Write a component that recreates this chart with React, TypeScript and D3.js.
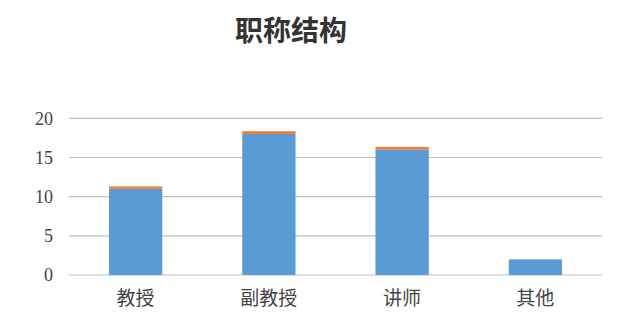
import React from "react";
import * as d3 from "d3";

const categories = ["教授", "副教授", "讲师", "其他"];
const series1 = [11, 18, 16, 2];
const series2 = [0.3, 0.35, 0.35, 0];
const yTicks = [0, 5, 10, 15, 20];
const title = "职称结构";

const W = 623;
const H = 325;

export default function App() {
  const x = d3
    .scaleBand<string>()
    .domain(categories)
    .range([69, 602])
    .paddingInner(0.6)
    .paddingOuter(0.3);
  const y = d3.scaleLinear().domain([0, 20]).range([275, 118.3]);
  const stackData = categories.map((c, i) => ({ c, a: series1[i], b: series2[i] }));
  const stacked = d3.stack<any>().keys(["a", "b"])(stackData);
  const colors = ["#5B9BD5", "#ED7D31"];

  return (
    <svg
      width={W}
      height={H}
      style={{ position: "absolute", left: 0, top: 0, background: "#fff" }}
    >
      <text
        x={291}
        y={41}
        textAnchor="middle"
        fontFamily="'Noto Sans CJK SC', sans-serif"
        fontSize={28}
        fontWeight="bold"
        fill="#333"
      >
        {title}
      </text>
      {yTicks.map((t) => (
        <g key={t}>
          <line x1={69} x2={602} y1={y(t)} y2={y(t)} stroke="#bfbfbf" strokeWidth={1.2} />
          <text
            x={53}
            y={y(t)}
            dy="0.35em"
            textAnchor="end"
            fontFamily="'Liberation Serif', serif"
            fontSize={18}
            fill="#444"
          >
            {t}
          </text>
        </g>
      ))}
      {stacked.map((layer, li) =>
        layer.map((d, i) => {
          const h = y(d[0]) - y(d[1]);
          if (h <= 0) return null;
          return (
            <rect
              key={li + "-" + i}
              x={x(categories[i])}
              y={y(d[1])}
              width={x.bandwidth()}
              height={h}
              fill={colors[li]}
            />
          );
        })
      )}
      {categories.map((c) => (
        <text
          key={c}
          x={(x(c) as number) + x.bandwidth() / 2}
          y={298}
          dy="0.35em"
          textAnchor="middle"
          fontFamily="'Noto Sans CJK SC', sans-serif"
          fontSize={19}
          fill="#444"
        >
          {c}
        </text>
      ))}
    </svg>
  );
}
